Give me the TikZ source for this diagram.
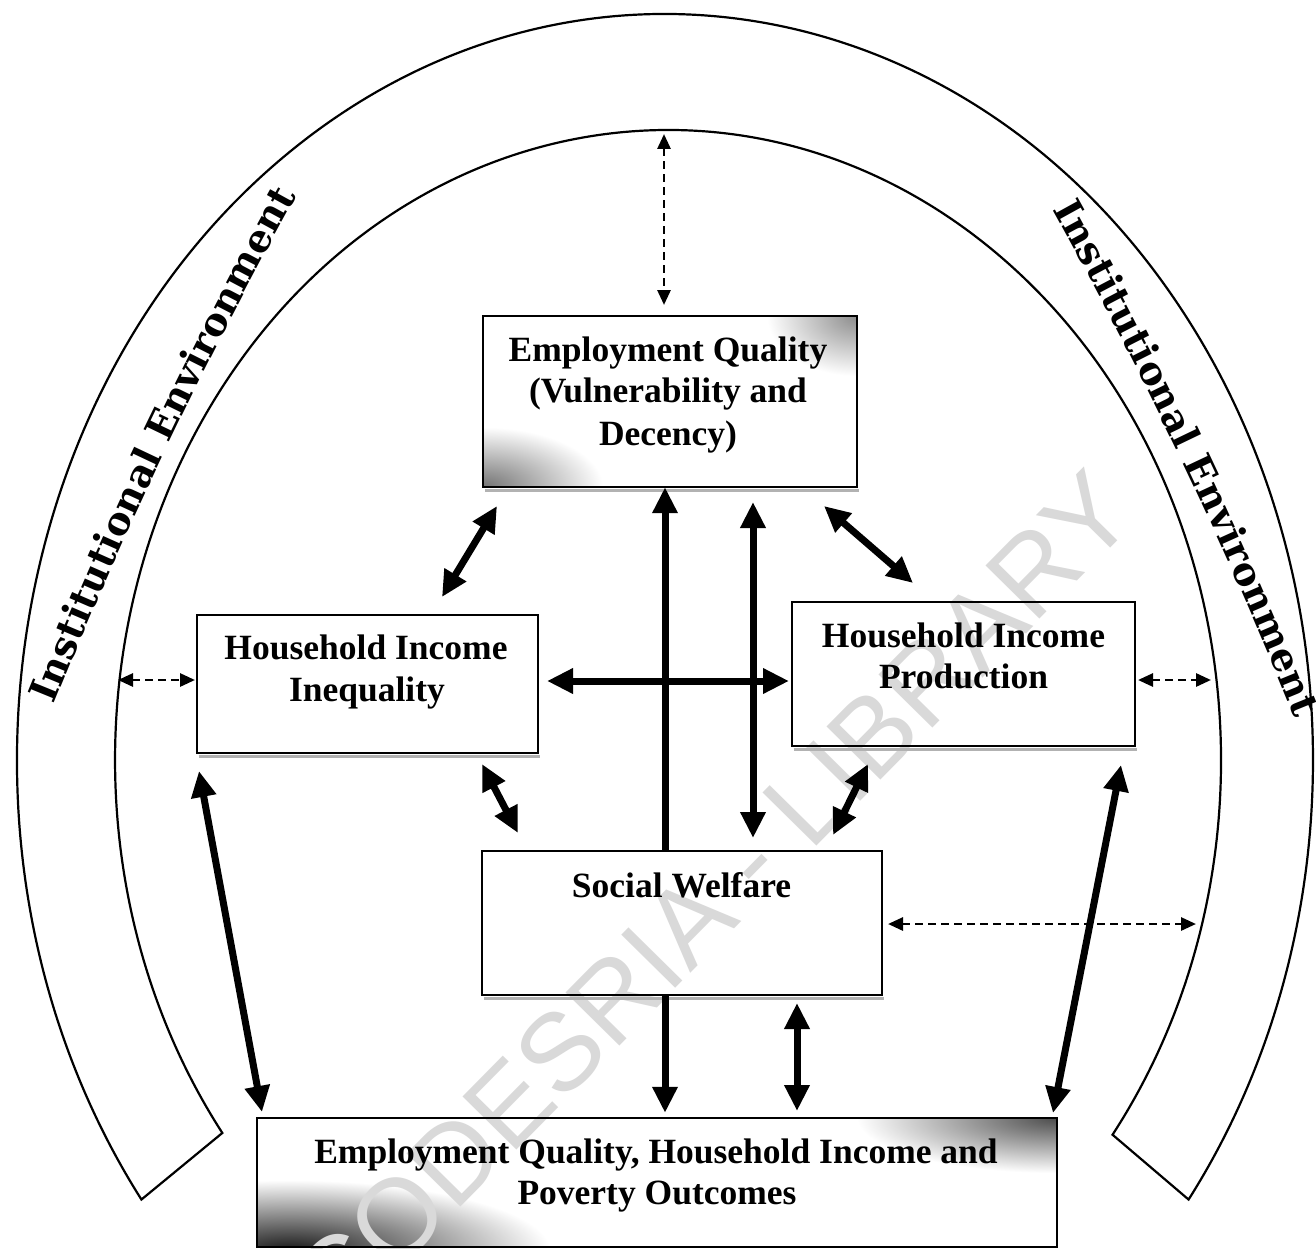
\documentclass[tikz,border=0pt]{standalone}
\usepackage{fontspec}
\setmainfont{Liberation Serif}
\newfontfamily\arcfam{DejaVu Serif}
\newfontfamily\wmfam{Liberation Sans}
\usetikzlibrary{arrows.meta,decorations.text,calc}
\newcommand\arcfont{\arcfam\bfseries\fontsize{38.5}{40}\selectfont}
\begin{document}
\begin{tikzpicture}[x=1pt,y=-1pt,
  boxfill/.style={fill=white, draw=none, inner sep=0pt},
  frame/.style={draw=black, line width=1.5pt},
  shadowline/.style={draw=gray!60, line width=3pt},
  lbl/.style={font=\bfseries\fontsize{35.5}{42}\selectfont, inner sep=0pt, anchor=base},
  tarrow/.style={line width=7pt, {Triangle[length=26pt,width=24pt]}-{Triangle[length=26pt,width=24pt]}},
  tone/.style={line width=7pt, -{Triangle[length=26pt,width=24pt]}},
  darrow/.style={line width=2.8pt, dash pattern=on 8pt off 5pt, {Triangle[length=15pt,width=13pt]}-{Triangle[length=15pt,width=13pt]}},
  arch/.style={draw=black, line width=2.2pt, line join=miter},
  wmstyle/.style={font=\wmfam\fontsize{110}{115}\selectfont, text=black!15, inner sep=0pt}
]
\useasboundingbox (0,0) rectangle (1316,1249);
\fill[white] (0,0) rectangle (1316,1249);

% ---- arch band ----
\path (665,760) ++(143.9:648 and 746) coordinate (oL);
\path (668,760) ++(396.5:553 and 630) coordinate (iR);
\draw[arch] (oL) arc[start angle=143.9, end angle=396.1, x radius=648, y radius=746]
  -- (iR) arc[start angle=396.5, end angle=143.7, x radius=553, y radius=630] -- cycle;

% ---- text along the band ----
\path[decoration={text along path, text={|\arcfont|Institutional Environment}, text align=center}, decorate]
  (37.8,744.1) .. controls (117.4,542.5) and (210.6,347.5) .. (317.2,158.9);
\path[decoration={text along path, text={|\arcfont|Institutional Environment}, text align=center}, decorate]
  (1032.8,173.9) .. controls (1138.8,361.5) and (1231.2,555.5) .. (1310.2,756.1);

% ---- boxes (fill) ----
\node[boxfill, minimum width=374pt, minimum height=171pt] (eq) at (670,401.5) {};
\node[boxfill, minimum width=341pt, minimum height=138pt] (hii) at (367.5,684) {};
\node[boxfill, minimum width=343pt, minimum height=144pt] (hip) at (963.5,674) {};
\node[boxfill, minimum width=400pt, minimum height=144pt] (sw) at (682,923) {};
\node[boxfill, minimum width=800pt, minimum height=129pt] (out) at (657,1182.5) {};

% ---- shading in boxes ----
\begin{scope}
  \clip (eq.south west) rectangle (eq.north east);
  \shade[inner color=black!55, outer color=white] (483,487) ellipse (120 and 60);
  \shade[inner color=black!45, outer color=white] (857,316) ellipse (90 and 60);
\end{scope}
\begin{scope}
  \clip (out.south west) rectangle (out.north east);
  \shade[inner color=black!90, outer color=white] (290,1250) ellipse (260 and 70);
  \shade[inner color=black!70, outer color=white] (1057,1118) ellipse (200 and 55);
\end{scope}

% ---- watermark ----
\begin{scope}
  \clip (0,0) rectangle (1316,1249);
  \node[wmstyle, rotate=45.4] (wm) at (712,898) {CODESRIA - LIBRARY};
\end{scope}

% ---- box frames ----
\foreach \b in {eq,hii,hip,sw,out}{
  \draw[frame] (\b.south west) rectangle (\b.north east);
}
\foreach \b in {eq,hii,hip,sw}{
  \draw[shadowline] ($(\b.south west)+(2,3)$) -- ($(\b.south east)+(2,3)$);
}

% ---- labels ----
\node[lbl] (eqt1) at (668,361) {Employment Quality};
\node[lbl] (eqt2) at (668,402) {(Vulnerability and};
\node[lbl] (eqt3) at (668,445) {Decency)};
\node[lbl] (hiit1) at (366,659) {Household Income};
\node[lbl] (hiit2) at (367,701) {Inequality};
\node[lbl] (hipt1) at (963.5,647) {Household Income};
\node[lbl] (hipt2) at (963.5,688) {Production};
\node[lbl] (swt) at (681.5,897) {Social Welfare};
\node[lbl] (outt1) at (656,1163) {Employment Quality, Household Income and};
\node[lbl] (outt2) at (657,1204) {Poverty Outcomes};

% ---- connector end points ----
\coordinate (vx) at (665,0);
\coordinate (a1a) at (497,506);  \coordinate (a1b) at (442,597);
\coordinate (a2a) at (824,506);  \coordinate (a2b) at (913,583);
\coordinate (a3a) at (547,681);  \coordinate (a3b) at (789,681);
\coordinate (a4a) at (753,502);  \coordinate (a4b) at (753,838);
\coordinate (a5a) at (482,764);  \coordinate (a5b) at (518,833);
\coordinate (a6a) at (868,764);  \coordinate (a6b) at (833,835);
\coordinate (a7a) at (797,1003); \coordinate (a7b) at (797,1111);
\coordinate (a8a) at (199,771);  \coordinate (a8b) at (262,1112);
\coordinate (a9a) at (1121,765); \coordinate (a9b) at (1053,1113);
\coordinate (d1a) at (664,134);  \coordinate (d1b) at (664,305);
\coordinate (d2a) at (118,680);  \coordinate (d2b) at (195,680);
\coordinate (d3a) at (1138,680); \coordinate (d3b) at (1211,680);
\coordinate (d4a) at (888,924);  \coordinate (d4b) at (1196,924);

% ---- thick connectors ----
\draw[tarrow] (a1a) -- (a1b);
\draw[tarrow] (a2a) -- (a2b);
\draw[tarrow] (a3a) -- (a3b);
\draw[tone] (sw.north -| vx) -- (eq.south -| vx);
\draw[tone] (sw.south -| vx) -- ($(out.north -| vx)+(0,-5)$);
\draw[tarrow] (a4a) -- (a4b);
\draw[tarrow] (a5a) -- (a5b);
\draw[tarrow] (a6a) -- (a6b);
\draw[tarrow] (a7a) -- (a7b);
\draw[tarrow] (a8a) -- (a8b);
\draw[tarrow] (a9a) -- (a9b);

% ---- dashed connectors ----
\draw[darrow] (d1a) -- (d1b);
\draw[darrow] (d2a) -- (d2b);
\draw[darrow] (d3a) -- (d3b);
\draw[darrow] (d4a) -- (d4b);
\end{tikzpicture}
\end{document}
